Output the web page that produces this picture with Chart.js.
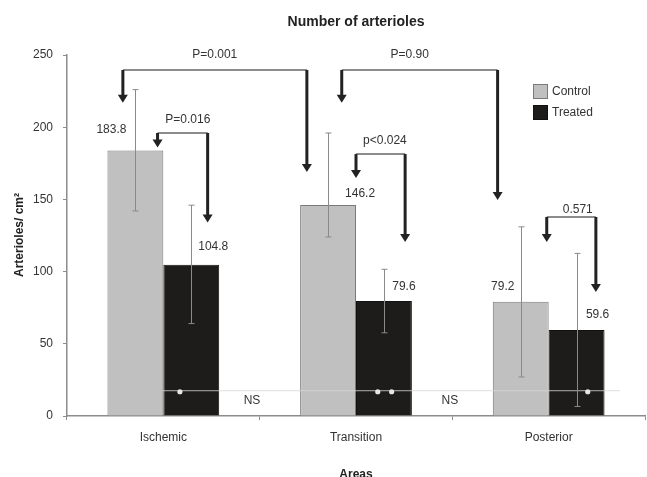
<!DOCTYPE html>
<html>
<head>
<meta charset="utf-8">
<script src="https://cdn.jsdelivr.net/npm/chart.js@4"></script>
<style>
  html, body { margin: 0; padding: 0; background: #fff; }
  #chart { display: block; }
</style>
</head>
<body>
<canvas id="chart" width="647" height="477"></canvas>
<script>
const areas = ['Ischemic', 'Transition', 'Posterior']
const control = [183.8, 146.2, 79.2]
const treated = [104.8, 79.6, 59.6]
const controlLow = [142, 124, 27]
const controlHigh = [226, 196, 131]
const treatedLow = [64, 57.6, 6.6]
const treatedHigh = [146, 101.6, 112.6]
const yTicks = [0, 50, 100, 150, 200, 250]

// comparison brackets, x in category index units, y in arterioles/cm2
const brackets = [
  { label: 'P=0.001', x1: -0.21, x2: 0.745, top: 239.6, tip1: 217, tip2: 169, textX: 0.267, textY: 250 },
  { label: 'P=0.90', x1: 0.926, x2: 1.735, top: 239.6, tip1: 217, tip2: 149.6, textX: 1.279, textY: 250 },
  { label: 'P=0.016', x1: -0.03, x2: 0.23, top: 196, tip1: 186, tip2: 134, textX: 0.127, textY: 205 },
  { label: 'p<0.024', x1: 1.0, x2: 1.255, top: 181.4, tip1: 164.8, tip2: 120.5, textX: 1.15, textY: 191 },
  { label: '0.571', x1: 1.99, x2: 2.245, top: 137.8, tip1: 120.5, tip2: 85.9, textX: 2.151, textY: 142.7 }
]

// NS line across the bottom and the asterisks on the treated bars
const nsLevel = 17.5
const nsLabels = ['NS', 'NS']
const nsLabelX = [0.46, 1.487]
const starX = [0.086, 1.113, 1.185, 2.203]

// where each value label sits relative to its bar top (px)
const controlNudge = [[-24, -21], [32, -11], [-18, -15]]
const treatedNudge = [[22, -18], [20, -14], [21, -15]]

const FONT = '"Liberation Sans", Arial, sans-serif'
const AXIS = '#8c8c8c'

const drawArrow = (ctx, x, yTop, yTip) => {
  const head = 8
  ctx.lineWidth = 3
  ctx.strokeStyle = '#222'
  ctx.beginPath()
  ctx.moveTo(x, yTop)
  ctx.lineTo(x, yTip - head + 1)
  ctx.stroke()
  ctx.fillStyle = '#222'
  ctx.beginPath()
  ctx.moveTo(x - 5, yTip - head)
  ctx.lineTo(x + 5, yTip - head)
  ctx.lineTo(x, yTip)
  ctx.closePath()
  ctx.fill()
}

const extras = {
  id: 'extras',
  afterDatasetsDraw: (chart) => {
    const ctx = chart.ctx
    const xs = chart.scales.x
    const ys = chart.scales.y
    const area = chart.chartArea

    // NS line
    ctx.save()
    ctx.strokeStyle = 'rgba(215,215,215,0.8)'
    ctx.lineWidth = 1
    ctx.beginPath()
    ctx.moveTo(xs.getPixelForValue(-0.003), ys.getPixelForValue(nsLevel))
    ctx.lineTo(xs.getPixelForValue(2.37), ys.getPixelForValue(nsLevel))
    ctx.stroke()

    // error bars
    const lows = [controlLow, treatedLow]
    const highs = [controlHigh, treatedHigh]
    ctx.strokeStyle = '#8a8a8a'
    ctx.lineWidth = 1
    for (let d = 0; d < 2; d++) {
      const meta = chart.getDatasetMeta(d)
      meta.data.forEach((bar, i) => {
        const x = Math.round(bar.x) + 0.5
        const y1 = ys.getPixelForValue(lows[d][i])
        const y2 = ys.getPixelForValue(highs[d][i])
        ctx.beginPath()
        ctx.moveTo(x, y1)
        ctx.lineTo(x, y2)
        ctx.moveTo(x - 3, y1)
        ctx.lineTo(x + 3, y1)
        ctx.moveTo(x - 3, y2)
        ctx.lineTo(x + 3, y2)
        ctx.stroke()
      })
    }

    // asterisks
    ctx.fillStyle = '#e6e6e6'
    starX.forEach((sx) => {
      ctx.beginPath()
      ctx.arc(xs.getPixelForValue(sx), ys.getPixelForValue(nsLevel) + 1, 2.6, 0, Math.PI * 2)
      ctx.fill()
    })

    // value labels
    ctx.font = '12px ' + FONT
    ctx.fillStyle = '#333'
    ctx.textAlign = 'center'
    ctx.textBaseline = 'middle'
    const values = [control, treated]
    const nudges = [controlNudge, treatedNudge]
    for (let d = 0; d < 2; d++) {
      const meta = chart.getDatasetMeta(d)
      meta.data.forEach((bar, i) => {
        ctx.fillText(values[d][i].toFixed(1), bar.x + nudges[d][i][0], bar.y + nudges[d][i][1])
      })
    }

    // NS labels
    nsLabels.forEach((t, i) => {
      ctx.fillText(t, xs.getPixelForValue(nsLabelX[i]), ys.getPixelForValue(10.4))
    })

    // brackets
    brackets.forEach((b) => {
      const x1 = xs.getPixelForValue(b.x1)
      const x2 = xs.getPixelForValue(b.x2)
      const yt = ys.getPixelForValue(b.top)
      ctx.strokeStyle = '#666'
      ctx.lineWidth = 1.5
      ctx.beginPath()
      ctx.moveTo(x1, yt)
      ctx.lineTo(x2, yt)
      ctx.stroke()
      drawArrow(ctx, x1, yt, ys.getPixelForValue(b.tip1))
      drawArrow(ctx, x2, yt, ys.getPixelForValue(b.tip2))
      ctx.fillStyle = '#333'
      ctx.font = '12px ' + FONT
      ctx.fillText(b.label, xs.getPixelForValue(b.textX), ys.getPixelForValue(b.textY))
    })

    // legend
    ctx.textAlign = 'left'
    chart.data.datasets.forEach((ds, i) => {
      const ly = 91 + i * 21
      ctx.fillStyle = ds.backgroundColor
      ctx.fillRect(533, ly - 7, 15, 15)
      ctx.strokeStyle = ds.borderColor
      ctx.lineWidth = 1
      ctx.strokeRect(533.5, ly - 6.5, 14, 14)
      ctx.fillStyle = '#333'
      ctx.fillText(ds.label, 552, ly + 1)
    })

    // titles
    ctx.textAlign = 'center'
    ctx.fillStyle = '#222'
    ctx.font = 'bold 14px ' + FONT
    ctx.fillText('Number of arterioles', (area.left + area.right) / 2, 22)
    ctx.font = 'bold 12px ' + FONT
    ctx.fillText('Areas', (area.left + area.right) / 2, 475)
    ctx.translate(20, 235)
    ctx.rotate(-Math.PI / 2)
    ctx.fillText('Arterioles/ cm²', 0, 0)
    ctx.restore()
  }
}

new Chart(document.getElementById('chart'), {
  type: 'bar',
  data: {
    labels: areas,
    datasets: [
      { label: 'Control', data: control, backgroundColor: '#c0c0c0', borderColor: '#7a7a7a', borderWidth: 1 },
      { label: 'Treated', data: treated, backgroundColor: '#1e1b1b', borderColor: '#111', borderWidth: 1 }
    ]
  },
  options: {
    responsive: false,
    animation: false,
    layout: { padding: { top: 55, right: 2, left: 0, bottom: 0 } },
    categoryPercentage: 0.58,
    barPercentage: 1.0,
    plugins: {
      legend: { display: false },
      title: { display: false },
      tooltip: { enabled: false }
    },
    scales: {
      x: {
        afterFit: (scale) => { scale.height = 61 },
        border: { color: AXIS, width: 1.5 },
        grid: { drawOnChartArea: false, tickLength: 4, tickColor: AXIS, offset: true },
        ticks: { color: '#333', font: { size: 12, family: FONT }, padding: 10 }
      },
      y: {
        min: 0,
        max: 250,
        afterFit: (scale) => { scale.width = 67 },
        afterBuildTicks: (scale) => { scale.ticks = yTicks.map(v => ({ value: v })) },
        border: { color: AXIS, width: 1.5 },
        grid: { drawOnChartArea: false, tickLength: 4, tickColor: AXIS },
        ticks: { color: '#333', font: { size: 12, family: FONT }, padding: 10 }
      }
    }
  },
  plugins: [extras]
})
</script>
</body>
</html>
